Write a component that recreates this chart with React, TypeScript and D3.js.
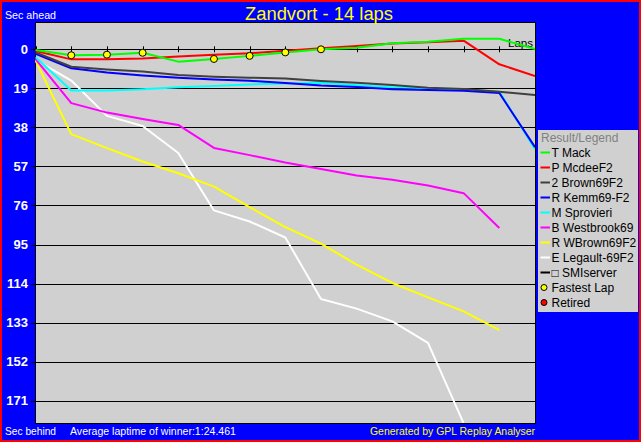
import React, { useEffect } from 'react'
import * as d3 from 'd3'

// lap numbers on the x axis
const lapNumbers = [0, 1, 2, 3, 4, 5, 6, 7, 8, 9, 10, 11, 12, 13, 14]

// seconds behind the winner's average pace (negative = ahead)
const mack = [0.3, 2.9, 2.6, 1.7, 6.0, 4.7, 3.2, 1.5, 0, -0.8, -2.9, -3.7, -5.1, -5.1, -0.1]
const mcdee = [0.8, 4.9, 4.9, 4.5, 3.5, 2.6, 1.9, 0.7, -0.5, -1.6, -2.8, -3.4, -4.2, 7.3, 13.0]
const brown = [1.5, 8.5, 9.8, 10.8, 12.5, 13.3, 13.8, 14.2, 15.4, 16.3, 17.4, 18.7, 19.3, 20.6, 22.3]
const kemm = [2.2, 9.2, 11.3, 12.7, 13.8, 14.7, 15.3, 16.4, 17.6, 18.4, 19.4, 19.8, 20.2, 21.3, 47.6]
const sprovieri = [3.9, 20.0, 20.0, 19.4, 18.5, 17.9, 17.1, 16.6, 16.3, 17.5, 18.5, 19.0, 19.6, 20.6, 48.6]
const westbrook = [4.8, 26.2, 30.8, 33.9, 36.8, 48.0, 51.5, 55.1, 58.2, 61.4, 63.5, 66.3, 70.0, 87.0]
const wbrown = [5.5, 41.3, 48.1, 54.6, 60.3, 66.8, 76.8, 86.5, 94.6, 104.8, 113.7, 120.7, 127.5, 136.7]
const legault = [5.1, 15.2, 32.4, 37.3, 50.5, 78.4, 83.8, 91.6, 121.5, 126.2, 132.4, 142.9, 182]
const smiserver: number[] = []

const driverNames = ["T Mack", "P McdeeF2", "2 Brown69F2", "R Kemm69-F2", "M Sprovieri", "B Westbrook69", "R WBrown69F2", "E Legault-69F2", "\u25A1 SMIserver"]
const driverColors = ["#00ff00", "#ff0000", "#404040", "#0000ff", "#00ffff", "#ff00ff", "#ffff00", "#ffffff", "#000000"]
const driverSeries = [mack, mcdee, brown, kemm, sprovieri, westbrook, wbrown, legault, smiserver]

// laps where the fastest lap was set (by T Mack)
const fastestLaps = [1, 2, 3, 5, 6, 7, 8]

const yTicks = [0, 19, 38, 57, 76, 95, 114, 133, 152, 171]

const W = 641
const H = 442
const font = "'Liberation Sans', Arial, sans-serif"

export default function App() {
    useEffect(() => {
        document.body.style.margin = "0"
    }, [])

    const plot = { left: 35, top: 22, right: 535, bottom: 423 }

    const x = d3.scaleLinear().domain([0, 14]).range([35.6, 535])
    const y = d3.scaleLinear().domain([0, 171]).range([49.3, 400.7])

    const line = d3.line<number>()
        .x((_, i) => x(lapNumbers[i]))
        .y(d => y(d))

    // draw the last finisher first so the leaders end up on top
    const drawOrder = driverSeries.map((_, i) => i).reverse()

    return (
        <svg width={W} height={H} style={{ display: 'block' }} fontFamily={font}>
            <defs>
                <clipPath id="plotClip">
                    <rect x={plot.left} y={plot.top} width={plot.right - plot.left} height={plot.bottom - plot.top} />
                </clipPath>
            </defs>
            {/* frame */}
            <rect x={0} y={0} width={W} height={H} fill="#ff0000" />
            <rect x={2} y={2} width={W - 4} height={H - 4} fill="#0000ff" />

            {/* plot area */}
            <rect x={plot.left + 0.5} y={plot.top + 0.5} width={plot.right - plot.left} height={plot.bottom - plot.top}
                fill="#d0d0d0" stroke="#000" strokeWidth={1} />

            {/* grid lines + y labels */}
            {yTicks.map(t => (
                <g key={t}>
                    <line x1={31} x2={plot.right} y1={Math.round(y(t)) + 0.5} y2={Math.round(y(t)) + 0.5} stroke="#000" strokeWidth={1} />
                    <text x={28} y={y(t)} dy="0.36em" textAnchor="end" fill="#fff" fontWeight="bold" fontSize={13}>{t}</text>
                </g>
            ))}

            {/* lap ticks on zero line */}
            {lapNumbers.map(l => (
                <line key={l} x1={Math.round(x(l)) + 0.5} x2={Math.round(x(l)) + 0.5} y1={y(0) - 3} y2={y(0) + 3} stroke="#000" strokeWidth={1} />
            ))}
            <text x={533} y={47} textAnchor="end" fontSize={11.5} fill="#000">Laps</text>

            {/* series */}
            <g clipPath="url(#plotClip)">
                {drawOrder.map(i => driverSeries[i].length > 0 && (
                    <path key={driverNames[i]} d={line(driverSeries[i]) || ''} fill="none" stroke={driverColors[i]} strokeWidth={2} strokeLinejoin="round" />
                ))}
                {fastestLaps.map(l => (
                    <circle key={l} cx={x(l)} cy={y(mack[l])} r={3.5} fill="#ffff00" stroke="#000" strokeWidth={1} />
                ))}
            </g>

            {/* titles */}
            <text x={245} y={20} fontSize={18} fill="#ffff00" textLength={148} lengthAdjust="spacingAndGlyphs">Zandvort - 14 laps</text>
            <text x={5} y={19} fontSize={11} fill="#fff" textLength={51} lengthAdjust="spacingAndGlyphs">Sec ahead</text>
            <text x={5} y={435} fontSize={11} fill="#fff" textLength={51} lengthAdjust="spacingAndGlyphs">Sec behind</text>
            <text x={70} y={435} fontSize={11} fill="#fff" textLength={166} lengthAdjust="spacingAndGlyphs">Average laptime of winner:1:24.461</text>
            <text x={370} y={435} fontSize={11} fill="#ffff00" textLength={165} lengthAdjust="spacingAndGlyphs">Generated by GPL Replay Analyser</text>

            {/* legend */}
            <rect x={538} y={130} width={100} height={182} fill="#d0d0d0" />
            <text x={541} y={141.5} fontSize={12} fill="#808080">Result/Legend</text>
            {driverNames.map((n, i) => {
                const cy = 152.5 + i * 15
                return (
                    <g key={n}>
                        <line x1={540.5} x2={550} y1={cy} y2={cy} stroke={driverColors[i]} strokeWidth={2} />
                        <text x={551.5} y={cy + 4.5} fontSize={12} fill="#000">{n}</text>
                    </g>
                )
            })}
            <circle cx={544} cy={152.5 + 9 * 15} r={3} fill="#ffff00" stroke="#000" strokeWidth={1} />
            <text x={551.5} y={152.5 + 9 * 15 + 4.5} fontSize={12} fill="#000">Fastest Lap</text>
            <circle cx={544} cy={152.5 + 10 * 15} r={3} fill="#ff0000" stroke="#000" strokeWidth={1} />
            <text x={551.5} y={152.5 + 10 * 15 + 4.5} fontSize={12} fill="#000">Retired</text>
        </svg>
    )
}
